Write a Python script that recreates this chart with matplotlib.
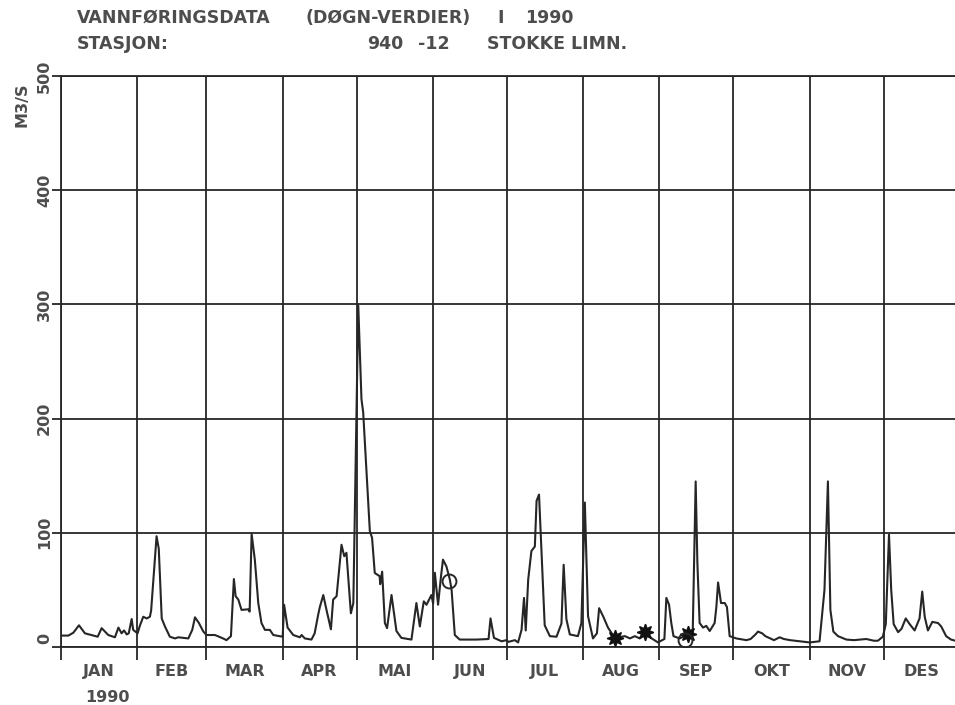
import matplotlib.pyplot as plt

# daily discharge 1990, Stokke limn. (day of year, m3/s) - plotted vertices
day = [0, 3, 5, 7.3, 9.7, 14.9, 16.5, 19.2, 21.9, 23.3, 24.6, 25.6, 26.7, 27.5, 28.7, 29.3,
       31.1, 32, 33.4, 34.8, 36.1, 36.6, 38.8, 39.7, 40.9, 42.2, 44.2, 46.3, 47.6, 51.7, 53.3,
       54.4, 56, 57.8, 59.1,
       62.5, 65.3, 67.2, 69, 70.2, 70.9, 72, 73.3, 76, 76.6, 77.4, 78.7, 80.1, 81.4, 82.8,
       84.8, 86.2, 88.9, 90,
       90.6, 92, 94.3, 97, 97.7, 99, 101.7, 103, 104.4, 105.1, 106.5, 107.8, 109.6, 110.5,
       111.9, 113.2, 113.9, 115, 115.9, 117.7, 118.7,
       120.7, 122, 122.7, 125.4, 126.3, 127.4, 129.4, 129.6, 130.4, 131.5, 132.4, 134.2,
       136.2, 138.2, 142.3, 144.3, 145.7, 147.3, 148.4, 150.4,
       151.1, 151.8, 153.1, 154.3, 155.1, 156.5, 157.9, 158.6, 159.9, 161.9, 168.7, 173.6,
       174.4, 175.8, 178.9, 180.9,
       181.7, 184.3, 185.6, 187, 188, 188.7, 189.7, 191, 192.4, 193.1, 194.1, 195.1, 196.4,
       198.5, 201.2, 203.2, 204.1, 205.2, 206.6, 209.9, 211.3,
       212.7, 214, 216, 217.6, 218.5, 220.1, 222.1, 224.8, 229, 231, 233, 235, 237.3, 239.5,
       242.4,
       245, 245.8, 246.9, 247.8, 248.7, 251.2, 254.6, 256.5, 257.7, 258.4, 259.3, 260.7, 262,
       263.4, 265.4, 266.1, 266.8, 268, 269.5, 270.4, 271.5,
       274.2, 278.3, 280, 282, 283, 284.7, 286, 288, 289.5, 291.8, 293.5, 296, 304,
       308, 310, 311.4, 312.4, 313.6, 315.5, 318.9, 322, 327, 330, 331.7, 333.7,
       334.9, 336.2, 337.1, 338.1, 339.9, 341.3, 343, 344.6, 346.6, 348.6, 349.7, 350.7, 352,
       353.8, 356.1, 357.4, 359.4, 361.4, 364]
flow = [10, 10, 12.5, 19, 12, 9, 16.5, 10.5, 8.5, 17, 12, 14.5, 11, 12, 24.5, 15,
        12, 18.5, 26.5, 25, 26.5, 32, 97, 86, 25, 18, 9, 7.5, 8.5, 7.5, 15,
        26, 21, 13.5, 10.5,
        10.5, 8, 6, 9.5, 59.5, 44.5, 41.5, 32.5, 33, 31, 99, 76.5, 38.5, 21, 15,
        15, 10.5, 9.5, 9,
        37, 17, 10.5, 8.5, 10.5, 7.5, 6.5, 12, 28, 35, 45.5, 32.5, 15.5, 41.5,
        44.5, 73.5, 89.5, 79.5, 82.5, 29.5, 38.5,
        299, 217, 205.5, 101.4, 95.7, 64.8, 62, 55, 66, 21, 16.5, 45.5,
        14, 8, 6.5, 38.5, 18, 40, 37, 45.5,
        38, 65, 37, 62, 76.5, 70.5, 59, 50, 10.5, 6.5, 6.5, 7,
        25, 8, 5, 6,
        4.5, 6, 4, 15, 43, 14.5, 59, 84, 88, 128, 133.5, 83, 19,
        9.5, 9, 20.5, 72, 24.5, 11, 9.5, 21,
        126.5, 27, 7.5, 12, 34, 27, 17, 8, 9.5, 7.5, 9.5, 7.5, 12, 8,
        4,
        7, 43, 37, 21, 9.5, 7.5, 11, 12, 145, 73.5, 21, 17, 18.5,
        14, 21, 35, 56.5, 38.5, 38.5, 35, 9.5,
        7.5, 6, 7, 11, 13.5, 12, 9.5, 7.5, 6, 8.5, 7, 6, 4,
        5, 50, 145, 32.5, 13.5, 9.5, 6.5, 6, 7, 5.5, 5.5, 9,
        20, 98.5, 50, 20, 13, 16, 25, 20, 14.5, 25, 48.5, 26.5, 14.5,
        22, 21, 18, 9.5, 6.5, 5]

# flagged days
star_day = [224.8, 237.3, 254.6]
star_flow = [8, 13, 11]
ring_day = [157.6, 253.2]
ring_flow = [58, 6]

month_start = [0, 31, 59, 90, 120, 151, 181, 212, 243, 273, 304, 334]
month_names = ['JAN', 'FEB', 'MAR', 'APR', 'MAI', 'JUN', 'JUL', 'AUG', 'SEP', 'OKT', 'NOV', 'DES']
y_ticks = [0, 100, 200, 300, 400, 500]

ink = '#262626'
txt = '#4d4d4d'
font = dict(family='DejaVu Sans', weight='bold', color=txt)

fig = plt.figure(figsize=(9.55, 7.05), dpi=100)
ax = fig.add_axes([61 / 955, 1 - 647 / 705, 1 - 61 / 955, (647 - 76) / 705])
ax.set_xlim(0, 363)
ax.set_ylim(0, 500)

ax.set_xticks(month_start)
ax.set_xticklabels([])
mids = [(a + b) / 2 for a, b in zip(month_start, month_start[1:] + [365])]
ax.set_xticks(mids, minor=True)
ax.set_xticklabels(month_names, minor=True, fontsize=11.5, **font)
ax.tick_params(axis='x', which='major', direction='out', length=9.5, width=1.3, color=ink)
ax.tick_params(axis='x', which='minor', length=0, pad=12)
ax.set_yticks(y_ticks)
ax.set_yticklabels([])
ax.tick_params(axis='y', direction='out', length=6.5, width=1.3, color=ink)
ax.grid(True, color=ink, lw=1.3)
ax.spines['right'].set_visible(False)
for s in ['left', 'bottom', 'top']:
    ax.spines[s].set_color(ink)
    ax.spines[s].set_linewidth(1.3)

# rotated y labels; the zero sits a little above its tick
for v in y_ticks:
    off = 9 if v == 0 else 0
    ax.annotate(str(v), xy=(0, v), xycoords=('axes fraction', 'data'),
                xytext=(-16.5, off), textcoords='offset pixels',
                rotation=90, ha='center', va='center', fontsize=11.5, **font)
ax.annotate('M3/S', xy=(0, 475), xycoords=('axes fraction', 'data'),
            xytext=(-39, 0), textcoords='offset pixels',
            rotation=90, ha='center', va='center', fontsize=11.5, **font)

ax.plot(day, flow, color=ink, lw=1.5, zorder=3)
ax.plot(star_day, star_flow, ls='none', marker=(8, 1, 0), ms=12, color='#111', zorder=4)
ax.plot(ring_day, ring_flow, ls='none', marker='o', ms=10, mfc='none', mec=ink, mew=1.4, zorder=4)

head = dict(fontsize=12.5, va='center', **font)
fig.text(77 / 955, 1 - 18 / 705, 'VANNFØRINGSDATA', **head)
fig.text(305 / 955, 1 - 18 / 705, '(DØGN-VERDIER)', **head)
fig.text(497 / 955, 1 - 18 / 705, 'I', **head)
fig.text(525 / 955, 1 - 18 / 705, '1990', **head)
fig.text(77 / 955, 1 - 44 / 705, 'STASJON:', **head)
fig.text(367 / 955, 1 - 44 / 705, '940', **head)
fig.text(418 / 955, 1 - 44 / 705, '-12', **head)
fig.text(487 / 955, 1 - 44 / 705, 'STOKKE LIMN.', **head)
fig.text(85 / 955, 1 - 698 / 705, '1990', fontsize=11.5, va='center', **font)

fig.savefig('out.png', dpi=100, facecolor='white')
